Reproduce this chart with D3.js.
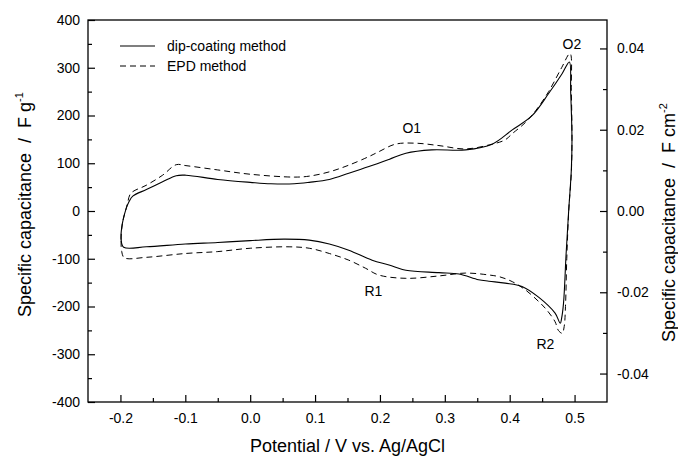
<!DOCTYPE html>
<html lang="en">
  <head>
    <meta charset="UTF-8" />
    <title>CV curves</title>
    <script src="https://cdn.jsdelivr.net/npm/d3@7"></script>
    <style>
      body { margin: 0; background: #fff; }
      svg { font-family: Arial, "Liberation Sans", sans-serif; }
      .lbl { white-space: pre; }
    </style>
  </head>
  <body>
    <svg width="678" height="457"></svg>
    <script>
      // dip-coating (solid) loop, potential V / capacitance F g-1
      const dipV = [-0.199, -0.197, -0.191, -0.187, -0.181, -0.16, -0.135, -0.114, -0.099, -0.05, 0.0, 0.032, 0.068, 0.091, 0.122, 0.152, 0.183, 0.214, 0.24, 0.28, 0.332, 0.373, 0.404, 0.434, 0.46, 0.481, 0.492,
        0.494, 0.496, 0.495, 0.491, 0.487, 0.483, 0.48, 0.478, 0.47, 0.445, 0.419, 0.393, 0.368, 0.352, 0.322, 0.291, 0.24, 0.214, 0.188, 0.152, 0.122, 0.091, 0.052, 0.0, -0.05, -0.1, -0.16, -0.195];
      const dipC = [-59, -26, 6, 19, 31, 45, 61, 74, 75, 66, 60, 57, 57, 60, 66, 79, 93, 108, 121, 128, 128, 140, 170, 199, 246, 288, 312,
        250, 150, 86, 2, -89, -193, -225, -235, -214, -181, -158, -151, -147, -144, -132, -129, -124, -113, -103, -82, -69, -61, -59, -62, -66, -69, -75, -76];

      // EPD (dashed) loop
      const epdV = [-0.198, -0.199, -0.197, -0.191, -0.189, -0.184, -0.16, -0.135, -0.114, -0.099, -0.05, 0.0, 0.068, 0.091, 0.122, 0.152, 0.183, 0.198, 0.224, 0.255, 0.291, 0.332, 0.373, 0.393, 0.404, 0.424, 0.44, 0.46, 0.48, 0.493,
        0.495, 0.496, 0.495, 0.491, 0.488, 0.486, 0.484, 0.481, 0.475, 0.47, 0.457, 0.445, 0.424, 0.404, 0.385, 0.368, 0.332, 0.291, 0.24, 0.198, 0.178, 0.152, 0.122, 0.091, 0.06, 0.0, -0.05, -0.1, -0.16, -0.194];
      const epdC = [-85, -60, -26, 6, 16, 37, 54, 75, 97, 95, 86, 77, 71, 73, 82, 96, 114, 124, 140, 142, 137, 130, 140, 149, 162, 185, 210, 250, 300, 330,
        250, 150, 80, 0, -100, -200, -242, -256, -250, -232, -207, -190, -165, -148, -138, -134, -130, -136, -141, -134, -120, -103, -89, -78, -75, -78, -85, -89, -97, -98];

      const xMajor = [-0.2, -0.1, 0.0, 0.1, 0.2, 0.3, 0.4, 0.5];
      const xMinor = [-0.15, -0.05, 0.05, 0.15, 0.25, 0.35, 0.45];
      const yMajor = [-400, -300, -200, -100, 0, 100, 200, 300, 400];
      const yMinor = [-350, -250, -150, -50, 50, 150, 250, 350];
      const y2Major = [-0.04, -0.02, 0.0, 0.02, 0.04];
      const y2Minor = [-0.03, -0.01, 0.01, 0.03];

      const labels = [
        { t: "O1", v: 0.249, c: 164 },
        { t: "O2", v: 0.496, c: 340 },
        { t: "R1", v: 0.19, c: -177 },
        { t: "R2", v: 0.455, c: -288 }
      ];

      const pL = 88, pR = 607, pT = 20, pB = 402;
      const svg = d3.select("svg");
      const x = d3.scaleLinear().domain([-0.25, 0.55]).range([pL, pR]);
      const y = d3.scaleLinear().domain([-400, 400]).range([pB, pT]);
      const y2 = d3.scaleLinear().domain([-0.047, 0.047]).range([pB, pT]);

      const fmt1 = (d) => d.toFixed(1);
      // bottom axis
      svg.append("g").attr("transform", `translate(0,${pB})`)
        .call(d3.axisBottom(x).tickValues(xMajor).tickSize(-7).tickPadding(11).tickFormat(fmt1));
      svg.append("g").attr("transform", `translate(0,${pB})`)
        .call(d3.axisBottom(x).tickValues(xMinor).tickSize(-4).tickFormat(""));
      // left axis
      svg.append("g").attr("transform", `translate(${pL},0)`)
        .call(d3.axisLeft(y).tickValues(yMajor).tickSize(-7).tickPadding(8).tickFormat((d) => d));
      svg.append("g").attr("transform", `translate(${pL},0)`)
        .call(d3.axisLeft(y).tickValues(yMinor).tickSize(-4).tickFormat(""));
      // right axis
      svg.append("g").attr("transform", `translate(${pR},0)`)
        .call(d3.axisRight(y2).tickValues(y2Major).tickSize(-7).tickPadding(10).tickFormat((d) => d.toFixed(2)));
      svg.append("g").attr("transform", `translate(${pR},0)`)
        .call(d3.axisRight(y2).tickValues(y2Minor).tickSize(-4).tickFormat(""));

      svg.selectAll(".domain").remove();
      svg.selectAll(".tick line").attr("stroke", "#000").attr("stroke-width", 1.2);
      svg.selectAll(".tick text").attr("font-size", 14).attr("fill", "#000")
        .attr("font-family", "Arial, 'Liberation Sans', sans-serif");

      // frame
      svg.append("rect").attr("x", pL).attr("y", pT)
        .attr("width", pR - pL).attr("height", pB - pT)
        .attr("fill", "none").attr("stroke", "#000").attr("stroke-width", 1.3);

      const line = d3.line().x((d) => x(d[0])).y((d) => y(d[1])).curve(d3.curveCatmullRomClosed.alpha(0.5));
      const dip = dipV.map((v, i) => [v, dipC[i]]);
      const epd = epdV.map((v, i) => [v, epdC[i]]);

      svg.append("path").datum(epd).attr("d", line)
        .attr("fill", "none").attr("stroke", "#000").attr("stroke-width", 1).attr("stroke-dasharray", "6,4");
      svg.append("path").datum(dip).attr("d", line)
        .attr("fill", "none").attr("stroke", "#000").attr("stroke-width", 1.1);

      // peak labels
      svg.selectAll(".peak").data(labels).enter().append("text")
        .attr("x", (d) => x(d.v)).attr("y", (d) => y(d.c))
        .attr("text-anchor", "middle").attr("font-size", 14).text((d) => d.t);

      // legend
      svg.append("line").attr("x1", 120).attr("x2", 155).attr("y1", 46).attr("y2", 46)
        .attr("stroke", "#000").attr("stroke-width", 1.1);
      svg.append("line").attr("x1", 120).attr("x2", 155).attr("y1", 66).attr("y2", 66)
        .attr("stroke", "#000").attr("stroke-width", 1).attr("stroke-dasharray", "6,4");
      svg.append("text").attr("x", 167).attr("y", 51).attr("font-size", 14).text("dip-coating method");
      svg.append("text").attr("x", 167).attr("y", 71).attr("font-size", 14).text("EPD method");

      // axis titles
      svg.append("text").attr("x", (pL + pR) / 2).attr("y", 452)
        .attr("text-anchor", "middle").attr("font-size", 18).text("Potential / V vs. Ag/AgCl");

      const ttl = svg.append("text").attr("class", "lbl")
        .attr("transform", "translate(31,317) rotate(-90)").attr("font-size", 18);
      ttl.append("tspan").text("Specific capacitance  /  F g");
      ttl.append("tspan").attr("font-size", 11).attr("dy", -8).text("-1");

      const ttl2 = svg.append("text").attr("class", "lbl")
        .attr("transform", "translate(675,342) rotate(-90)").attr("font-size", 18);
      ttl2.append("tspan").text("Specific capacitance  /  F cm");
      ttl2.append("tspan").attr("font-size", 11).attr("dy", -8).text("-2");
    </script>
  </body>
</html>
